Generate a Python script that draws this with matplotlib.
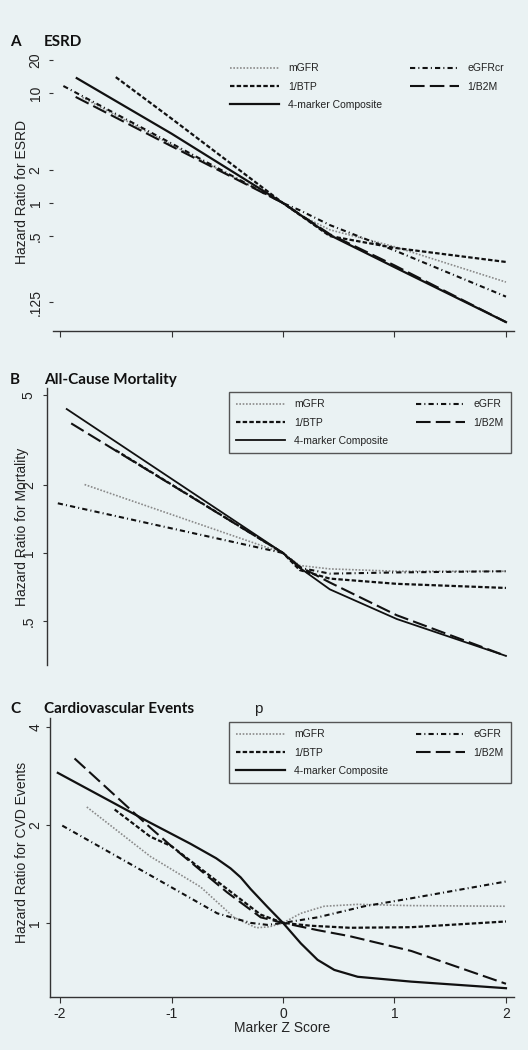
import numpy as np
import matplotlib.pyplot as plt

# hazard ratio curves (x = marker z score)
# A: ESRD
a_mgfr_z = [-1.8, -1, 0, 0.15, 0.42, 1, 2]
a_mgfr_hr = [9.2, 3.4, 1, 0.78, 0.57, 0.40, 0.19]
a_btp_z = [-1.5, -1, 0, 0.42, 1, 2]
a_btp_hr = [14.1, 5.9, 1, 0.50, 0.39, 0.29]
a_comp_z = [-1.85, -1, 0, 0.42, 1, 2]
a_comp_hr = [13.8, 4.3, 1, 0.51, 0.26, 0.082]
a_egfr_z = [-1.97, -1, 0, 0.15, 0.42, 1, 2]
a_egfr_hr = [11.7, 3.5, 1, 0.86, 0.63, 0.37, 0.14]
a_b2m_z = [-1.86, -1, 0, 0.42, 1, 2]
a_b2m_hr = [9.3, 3.3, 1, 0.52, 0.27, 0.082]

# B: all-cause mortality
b_mgfr_z = [-1.78, 0, 0.15, 0.42, 1.02, 2]
b_mgfr_hr = [2.01, 1, 0.88, 0.85, 0.83, 0.83]
b_btp_z = [-1.5, 0, 0.15, 0.42, 1.02, 2]
b_btp_hr = [2.85, 1, 0.84, 0.77, 0.73, 0.70]
b_comp_z = [-1.94, 0, 0.15, 0.42, 1.02, 2]
b_comp_hr = [4.34, 1, 0.86, 0.69, 0.51, 0.35]
b_egfr_z = [-2.02, 0, 0.15, 0.42, 1.02, 2]
b_egfr_hr = [1.66, 1, 0.86, 0.81, 0.82, 0.83]
b_b2m_z = [-1.9, 0, 0.15, 0.42, 1.02, 2]
b_b2m_hr = [3.75, 1, 0.87, 0.74, 0.53, 0.35]

# C: cardiovascular events
c_mgfr_z = [-1.76, -1.19, -0.74, -0.44, -0.24, -0.12, 0, 0.16, 0.37, 0.67, 1.15, 2]
c_mgfr_hr = [2.27, 1.60, 1.29, 1.04, 0.966, 0.973, 1, 1.07, 1.125, 1.14, 1.13, 1.125]
c_btp_z = [-1.51, -1.19, -1, -0.5, -0.2, 0, 0.25, 0.6, 1.15, 2]
c_btp_hr = [2.23, 1.84, 1.72, 1.27, 1.06, 1, 0.98, 0.966, 0.97, 1.01]
c_comp_z = [-2.02, -1.19, -0.83, -0.6, -0.47, -0.38, -0.29, -0.14, 0, 0.16, 0.31, 0.46, 0.67, 1.15, 2]
c_comp_hr = [2.89, 2.03, 1.75, 1.58, 1.47, 1.38, 1.27, 1.12, 1, 0.865, 0.77, 0.717, 0.683, 0.66, 0.63]
c_egfr_z = [-1.98, -1.19, -0.59, -0.29, -0.14, 0, 0.31, 0.73, 1.15, 2]
c_egfr_hr = [1.99, 1.40, 1.07, 1.0, 0.986, 1, 1.04, 1.125, 1.19, 1.34]
c_b2m_z = [-1.87, -1.19, -1, -0.5, -0.2, 0, 0.31, 0.6, 1.15, 2]
c_b2m_hr = [3.2, 1.96, 1.72, 1.24, 1.04, 1, 0.95, 0.91, 0.82, 0.65]

x_ticks = [-2, -1, 0, 1, 2]

bg = '#eaf2f3'
ink = '#111111'
plt.rcParams['font.family'] = ['Liberation Sans', 'DejaVu Sans']

W, H = 528, 1050
fig = plt.figure(figsize=(W / 100, H / 100), dpi=100, facecolor=bg)

def rect(l, t, r, b):
    return [l / W, 1 - b / H, (r - l) / W, (b - t) / H]

def fy(y):
    return 1 - y / H

styles = {
    'mgfr': dict(color='#8a8a8a', lw=1.2, ls=(0, (1, 1))),
    'btp': dict(color=ink, lw=1.6, ls=(0, (2, 1))),
    'comp': dict(color=ink, lw=1.6, ls='-'),
    'egfr': dict(color=ink, lw=1.5, ls=(0, (2.5, 1.5, 0.5, 1.5))),
    'b2m': dict(color=ink, lw=1.5, ls=(0, (7, 2.5))),
}

def draw(ax, curves, labels):
    hs = []
    for key in ['mgfr', 'btp', 'comp', 'egfr', 'b2m']:
        z, hr = curves[key]
        h, = ax.plot(z, hr, label=labels[key], **styles[key])
        hs.append(h)
    return hs

def style_axis(ax, ylim, xlim, yt, ytl, pad):
    ax.set_facecolor(bg)
    ax.set_yscale('log', base=2)
    ax.set_ylim(ylim)
    ax.set_xlim(xlim)
    ax.set_yticks(yt)
    ax.set_yticklabels(ytl)
    ax.minorticks_off()
    ax.tick_params(axis='y', labelrotation=90, length=3, pad=pad, labelsize=10,
                   color='#333333', labelcolor='#222222')
    for s in ['top', 'right']:
        ax.spines[s].set_visible(False)
    for lab in ax.get_yticklabels():
        lab.set_va('center')

def add_legend(ax, hs, top, frame):
    left = 229 if frame else 223
    leg = ax.legend(hs, [h.get_label() for h in hs], ncol=2, loc='upper left',
                    bbox_to_anchor=(left / W, fy(top)), bbox_transform=fig.transFigure,
                    borderaxespad=0, fontsize=7.5, handlelength=4.7, handletextpad=0.85,
                    columnspacing=2.65, labelspacing=0.8, borderpad=0.7,
                    frameon=frame, fancybox=False, facecolor=bg, edgecolor='#555555',
                    framealpha=1)
    leg.get_frame().set_linewidth(1.0)
    for t in leg.get_texts():
        t.set_color('#222222')

# ---- panel A
axA = fig.add_axes(rect(53, 52, 514, 331))
style_axis(axA, (0.068, 23.9), (-2.063, 2.072), [20, 10, 2, 1, 0.5, 0.125],
           ['20', '10', '2', '1', '.5', '.125'], 4.5)
axA.spines['left'].set_visible(False)
axA.set_xticks(x_ticks)
axA.tick_params(axis='x', labelbottom=False, length=4, color='#333333')
hA = draw(axA, {'mgfr': (a_mgfr_z, a_mgfr_hr), 'btp': (a_btp_z, a_btp_hr),
                'comp': (a_comp_z, a_comp_hr), 'egfr': (a_egfr_z, a_egfr_hr),
                'b2m': (a_b2m_z, a_b2m_hr)},
          {'mgfr': 'mGFR', 'btp': '1/BTP', 'comp': '4-marker Composite',
           'egfr': 'eGFRcr', 'b2m': '1/B2M'})
add_legend(axA, hA, 56, False)

# ---- panel B
axB = fig.add_axes(rect(47, 388, 514, 665))
style_axis(axB, (0.319, 5.38), (-2.117, 2.072), [5, 2, 1, 0.5], ['5', '2', '1', '.5'], 5)
axB.spines['bottom'].set_visible(False)
axB.set_xticks([])
hB = draw(axB, {'mgfr': (b_mgfr_z, b_mgfr_hr), 'btp': (b_btp_z, b_btp_hr),
                'comp': (b_comp_z, b_comp_hr), 'egfr': (b_egfr_z, b_egfr_hr),
                'b2m': (b_b2m_z, b_b2m_hr)},
          {'mgfr': 'mGFR', 'btp': '1/BTP', 'comp': '4-marker Composite',
           'egfr': 'eGFR', 'b2m': '1/B2M'})
hB[2].set_linewidth(1.3)
add_legend(axB, hB, 392, True)

# ---- panel C
axC = fig.add_axes(rect(50, 718, 514, 997))
style_axis(axC, (0.592, 4.26), (-2.09, 2.072), [4, 2, 1], ['4', '2', '1'], 2.5)
axC.set_xticks(x_ticks)
axC.set_xticklabels(['-2', '-1', '0', '1', '2'])
axC.tick_params(axis='x', length=4, pad=3, labelsize=10, color='#333333', labelcolor='#222222')
hC = draw(axC, {'mgfr': (c_mgfr_z, c_mgfr_hr), 'btp': (c_btp_z, c_btp_hr),
                'comp': (c_comp_z, c_comp_hr), 'egfr': (c_egfr_z, c_egfr_hr),
                'b2m': (c_b2m_z, c_b2m_hr)},
          {'mgfr': 'mGFR', 'btp': '1/BTP', 'comp': '4-marker Composite',
           'egfr': 'eGFR', 'b2m': '1/B2M'})
add_legend(axC, hC, 722, True)

for ax in [axA, axB, axC]:
    for s in ax.spines.values():
        s.set_color('#333333')
        s.set_linewidth(1.0)

# panel titles
title_font = dict(family=['Lato', 'DejaVu Sans'], fontweight='bold', fontsize=11,
                  color='#111111', va='center')
for letter, name, yc in [('A', 'ESRD', 42), ('B', 'All-Cause Mortality', 380),
                         ('C', 'Cardiovascular Events', 709)]:
    fig.text(10 / W, fy(yc), letter, ha='left', **title_font)
    fig.text(44 / W, fy(yc), name, ha='left', **title_font)
fig.text(258 / W, fy(709), 'p', ha='center', fontsize=11, color='#222222', va='center')

# y labels
for txt, yc in [('Hazard Ratio for ESRD', 192), ('Hazard Ratio for Mortality', 527),
                ('Hazard Ratio for CVD Events', 852)]:
    fig.text(22 / W, fy(yc), txt, rotation=90, ha='center', va='center',
             fontsize=10, color='#222222')

fig.text(282 / W, fy(1028), 'Marker Z Score', ha='center', va='center',
         fontsize=10, color='#222222')

plt.savefig('out.png', dpi=100, facecolor=bg)
